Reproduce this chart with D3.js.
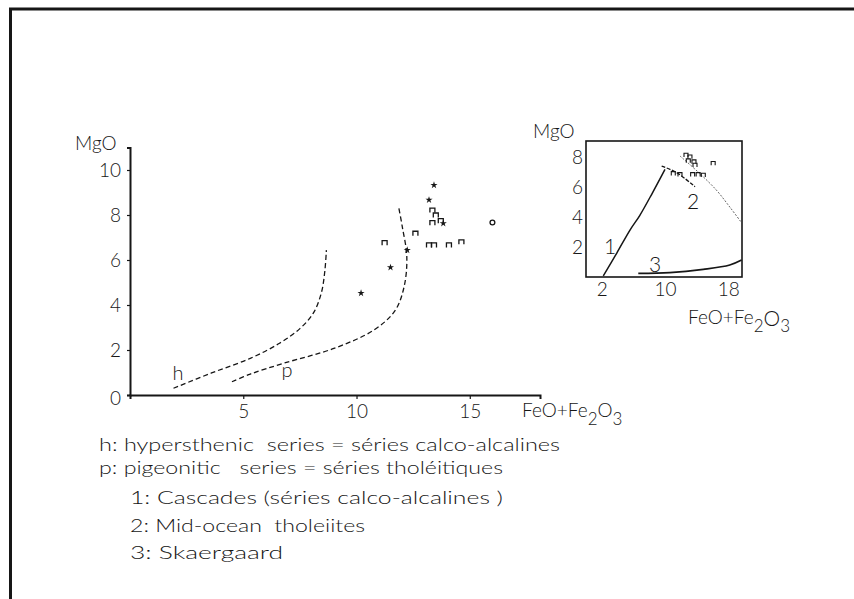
<!DOCTYPE html>
<html><head><meta charset="utf-8">
<script src="https://cdn.jsdelivr.net/npm/d3@7"></script>
<style>
html,body{margin:0;padding:0;background:#fff;}
svg text{font-family:Lato,"Open Sans",sans-serif;fill:#161616;white-space:pre;}
</style></head>
<body>
<script>
// ---------- DATA ----------
const mainXTicks = [5, 10, 15];
const mainYTicks = [0, 2, 4, 6, 8, 10];
// hypersthenic (h) and pigeonitic (p) trend curves [FeO+Fe2O3, MgO]
const curveH = [[1.92,0.3],[3.6,0.98],[5.31,1.63],[6.6,2.3],[7.5,2.95],[8.1,3.65],[8.45,4.55],[8.6,5.5],[8.67,6.44]];
const curveP = [[4.5,0.59],[5.31,0.93],[6.78,1.41],[9.0,2.07],[10.77,2.89],[11.7,3.75],[12.1,4.81],[12.22,6.15],[12.02,7.48],[11.87,8.3]];
// sample points: open (arch) markers, filled (star) markers, open circle
const openPts = [[13.35,8.22],[13.5,8.0],[13.35,7.66],[13.72,7.75],[12.6,7.19],[11.24,6.77],[13.2,6.67],[13.42,6.67],[14.08,6.67],[14.63,6.81]];
const starPts = [[13.42,9.33],[13.2,8.67],[13.83,7.63],[12.24,6.44],[11.5,5.67],[10.2,4.53]];
const circlePts = [[16.0,7.67]];
// inset
const insetXTicks = [2, 10, 18];
const insetYTicks = [2, 4, 6, 8];
const inset1 = [[2.19,0.07],[3.9,1.6],[5.57,3.13],[6.8,4.1],[8.4,5.6],[10.0,7.18]];      // Cascades
const inset2 = [[9.58,7.4],[11.48,6.96],[13.8,6.02]];                                        // Mid-ocean
const inset2b = [[11.9,8.07],[14.2,7.0],[16.5,5.8],[18.3,4.6],[19.7,3.62]];
const inset3 = [[6.62,0.24],[10.6,0.29],[14.85,0.51],[18.2,0.8],[19.7,1.13]];               // Skaergaard
const insetPts = [[12.66,8.13],[13.16,8.02],[12.95,7.76],[13.67,7.69],[13.8,7.47],[16.1,7.58],[11.05,6.91],[11.9,6.84],[13.5,6.84],[14.2,6.84],[14.85,6.8]];
const legendLines = [
  "h: hypersthenic  series = séries calco-alcalines",
  "p: pigeonitic   series = séries tholéitiques",
  "1: Cascades (séries calco-alcalines )",
  "2: Mid-ocean  tholeiites",
  "3: Skaergaard"
];

// ---------- DRAW ----------
const W = 854, H = 599;
const svg = d3.select("body").append("svg").attr("width", W).attr("height", H);
const ink = "#161616";

// frame
svg.append("path").attr("d","M10.5,599 L10.5,9 L854,9").attr("fill","none").attr("stroke",ink).attr("stroke-width",3);

// main scales
const x = d3.scaleLinear().domain([0, 18.1]).range([130, 540]);
const y = d3.scaleLinear().domain([0, 11]).range([395, 147.5]);

const gx = svg.append("g").attr("transform","translate(0,395)")
  .call(d3.axisBottom(x).tickValues(mainXTicks).tickSize(4).tickPadding(6).tickFormat(d3.format("d")));
const gy = svg.append("g").attr("transform","translate(130,0)")
  .call(d3.axisLeft(y).tickValues(mainYTicks).tickSize(3).tickPadding(6).tickFormat(d3.format("d")));
[gx, gy].forEach(g => {
  g.select(".domain").attr("stroke", ink).attr("stroke-width", 2);
  g.selectAll(".tick line").attr("stroke", ink).attr("stroke-width", 1.2);
  g.selectAll(".tick text").attr("font-size", 19).attr("fill", ink).style("font-family","Lato,sans-serif").attr("font-weight",300);
});
gy.select(".tick text").attr("dy","0.5em");

svg.append("text").attr("x",75).attr("y",150).attr("font-size",19).attr("font-weight",300).text("MgO");
const fx = svg.append("text").attr("x",522).attr("y",417).attr("font-size",19).attr("font-weight",300);
fx.append("tspan").text("FeO+Fe");
fx.append("tspan").attr("dy",8).attr("font-size",17).text("2");
fx.append("tspan").attr("dy",-8).text("O");
fx.append("tspan").attr("dy",8).attr("font-size",17).text("3");

const line = d3.line().x(d=>x(d[0])).y(d=>y(d[1])).curve(d3.curveCatmullRom.alpha(0.5));
[curveH, curveP].forEach(c => svg.append("path").attr("d", line(c)).attr("fill","none")
  .attr("stroke", ink).attr("stroke-width",1.3).attr("stroke-dasharray","5,3"));
svg.append("text").attr("x",178).attr("y",380).attr("font-size",20).attr("font-weight",300).attr("text-anchor","middle").text("h");
svg.append("text").attr("x",287).attr("y",377).attr("font-size",20).attr("font-weight",300).attr("text-anchor","middle").text("p");

svg.append("g").selectAll("path").data(openPts).join("path")
  .attr("transform", d=>`translate(${x(d[0])},${y(d[1])})`)
  .attr("d","M-2.5,2.5 L-2.5,-2 L2.5,-2 L2.5,2.5").attr("fill","none").attr("stroke",ink).attr("stroke-width",1.3);
svg.append("g").selectAll("path").data(starPts).join("path")
  .attr("transform", d=>`translate(${x(d[0])},${y(d[1])})`)
  .attr("d", d3.symbol(d3.symbolStar, 16)()).attr("fill", ink);
svg.append("g").selectAll("circle").data(circlePts).join("circle")
  .attr("cx", d=>x(d[0])).attr("cy", d=>y(d[1])).attr("r",2.4).attr("fill","none").attr("stroke",ink).attr("stroke-width",1.3);

// inset
const ix = d3.scaleLinear().domain([0, 19.75]).range([586, 742]);
const iy = d3.scaleLinear().domain([0, 9.07]).range([277, 141]);
svg.append("rect").attr("x",586).attr("y",141).attr("width",156).attr("height",136)
  .attr("fill","none").attr("stroke",ink).attr("stroke-width",1.6);
const gix = svg.append("g").attr("transform","translate(0,277)")
  .call(d3.axisBottom(ix).tickValues(insetXTicks).tickSize(0).tickPadding(6).tickFormat(d3.format("d")));
const giy = svg.append("g").attr("transform","translate(586,0)")
  .call(d3.axisLeft(iy).tickValues(insetYTicks).tickSize(0).tickPadding(3).tickFormat(d3.format("d")));
[gix, giy].forEach(g => {
  g.select(".domain").remove();
  g.selectAll(".tick text").attr("font-size", 19).attr("fill", ink).style("font-family","Lato,sans-serif").attr("font-weight",300);
});
const iline = d3.line().x(d=>ix(d[0])).y(d=>iy(d[1])).curve(d3.curveCatmullRom.alpha(0.5));
svg.append("path").attr("d", iline(inset1)).attr("fill","none").attr("stroke",ink).attr("stroke-width",1.5);
svg.append("path").attr("d", iline(inset2)).attr("fill","none").attr("stroke",ink).attr("stroke-width",1.3).attr("stroke-dasharray","4,1.5");
svg.append("path").attr("d", iline(inset2b)).attr("fill","none").attr("stroke","#555").attr("stroke-width",0.9).attr("stroke-dasharray","2,1.5");
svg.append("path").attr("d", iline(inset3)).attr("fill","none").attr("stroke",ink).attr("stroke-width",1.8);
svg.append("g").selectAll("path").data(insetPts).join("path")
  .attr("transform", d=>`translate(${ix(d[0])},${iy(d[1])})`)
  .attr("d","M-2,2 L-2,-1.8 L2,-1.8 L2,2").attr("fill","none").attr("stroke",ink).attr("stroke-width",1.1);
svg.append("text").attr("x",610).attr("y",254).attr("font-size",21).attr("font-weight",300).attr("text-anchor","middle").text("1");
svg.append("text").attr("x",693).attr("y",209).attr("font-size",21).attr("font-weight",300).attr("text-anchor","middle").text("2");
svg.append("text").attr("x",655).attr("y",272).attr("font-size",21).attr("font-weight",300).attr("text-anchor","middle").text("3");
svg.append("text").attr("x",533).attr("y",138).attr("font-size",19).attr("font-weight",300).text("MgO");
const ifx = svg.append("text").attr("x",688).attr("y",324).attr("font-size",19).attr("font-weight",300);
ifx.append("tspan").text("FeO+Fe");
ifx.append("tspan").attr("dy",8).attr("font-size",17).text("2");
ifx.append("tspan").attr("dy",-6).attr("font-size",21).text("O");
ifx.append("tspan").attr("dy",6).attr("font-size",17).text("3");

// legend
const legX = [99, 99, 130, 130, 130];
const legW = [461, 404, 373, 235, 153];
const legY = [451, 474, 504, 532, 559];
svg.append("g").selectAll("text").data(legendLines).join("text")
  .attr("x", (d,i)=>legX[i]).attr("y",(d,i)=>legY[i])
  .attr("font-size",18).attr("font-weight",300)
  .attr("textLength",(d,i)=>legW[i]).attr("lengthAdjust","spacingAndGlyphs")
  .text(d=>d);
</script>
</body></html>
